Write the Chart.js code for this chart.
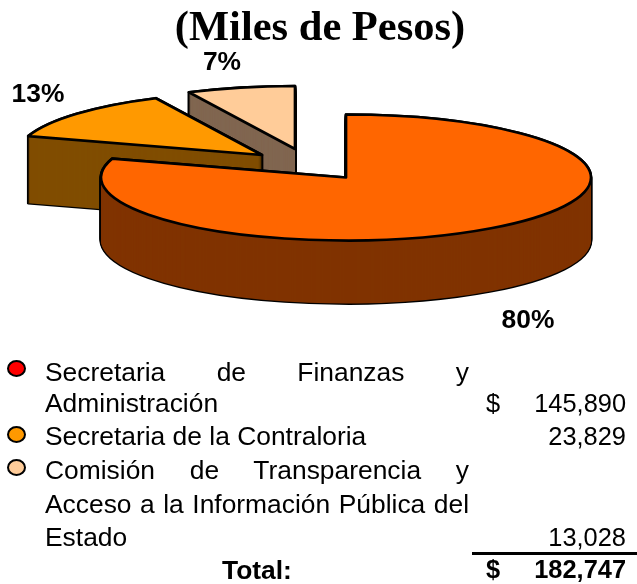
<!DOCTYPE html>
<html lang="es">
<head>
<meta charset="utf-8">
<script src="https://cdn.jsdelivr.net/npm/chart.js@4"></script>
<style>
html,body{margin:0;padding:0;background:#fff;width:637px;height:584px;overflow:hidden}
#c{position:absolute;left:0;top:0}
.t{position:absolute;font:26.4px/33px "Liberation Sans",Arial,sans-serif;color:#000;white-space:nowrap}
.j{width:424px;text-align:justify;text-align-last:justify;word-spacing:-0.5px}
.n{font-size:25.4px}
.r{text-align:right}
.b{font-weight:bold}
.m{position:absolute;width:15px;height:13px;border:2px solid #000;border-radius:50%}
#rule{position:absolute;left:472px;top:552px;width:165px;height:3px;background:#000}
</style>
</head>
<body>
<canvas id="c" width="637" height="584"></canvas>
<div class="m" style="left:7px;top:360px;background:#ff0000"></div>
<div class="m" style="left:7px;top:426px;background:#ff9900"></div>
<div class="m" style="left:7px;top:459px;background:#ffcc99"></div>
<div class="t j" style="left:45px;top:356px">Secretaria de Finanzas y</div>
<div class="t" style="left:45px;top:387px">Administración</div>
<div class="t" style="left:45px;top:420px">Secretaria de la Contraloria</div>
<div class="t j" style="left:45px;top:454px">Comisión de Transparencia y</div>
<div class="t j" style="left:45px;top:488px;white-space:normal">Acceso a la Información Pública del</div>
<div class="t" style="left:45px;top:521px">Estado</div>
<div class="t b" style="left:222px;top:554px">Total:</div>
<div class="t n" style="left:486px;top:387px">$</div>
<div class="t n b" style="left:486px;top:553px">$</div>
<div class="t n r" id="v0" style="right:11px;top:387px"></div>
<div class="t n r" id="v1" style="right:11px;top:420px"></div>
<div class="t n r" id="v2" style="right:11px;top:521px"></div>
<div class="t n r b" id="vt" style="right:11px;top:553px"></div>
<div id="rule"></div>
<script>
const categories = ['Secretaria de Finanzas y Administración','Secretaria de la Contraloria','Comisión de Transparencia y Acceso a la Información Pública del Estado'];
const values = [145890, 23829, 13028];
const totalValue = 182747;
const titleText = '(Miles de Pesos)';
const topColors = ['#FF6600','#FF9900','#FFCC99'];
const sideColors = ['#803300','#804D00','#806650'];

const fmt = n => n.toLocaleString('en-US');
values.forEach((v,i)=>document.getElementById('v'+i).textContent = fmt(v));
document.getElementById('vt').textContent = fmt(totalValue);

// 3-D view of the pie
const view = {cx:346, cy:177.5, ky:63/245, line:2.7};
const depths = [63,67,63];
const explode = [[0,0],[-84,-22.5],[-51,-28.5]];
const pctPos = [[528,328],[38,102],[222,70]];
const drawOrder = [2,1,0];

const pie3d = {
  id:'pie3d',
  beforeDatasetsDraw(chart){
    const ctx = chart.ctx, meta = chart.getDatasetMeta(0);
    const nativeStroke = ctx.stroke;
    ctx.stroke = function(){ ctx.save(); ctx.setTransform(1,0,0,1,0,0); nativeStroke.call(ctx); ctx.restore(); };
    const paint = (arc,i,y,fill,stroke) => {
      const saved = arc.options;
      arc.options = {backgroundColor:fill, borderColor:'#000', borderWidth:stroke, borderAlign:'center',
        borderJoinStyle:'round', borderRadius:0, spacing:0, offset:0, circular:true, borderDash:[], borderDashOffset:0};
      ctx.save();
      ctx.translate(view.cx+explode[i][0], view.cy+explode[i][1]+y);
      ctx.scale(1, view.ky);
      ctx.translate(-arc.x,-arc.y);
      ctx.lineWidth = stroke;
      arc.draw(ctx);
      ctx.restore();
      arc.options = saved;
    };
    drawOrder.forEach(i=>{
      const arc = meta.data[i];
      for(let d=depths[i];d>=0;d--) paint(arc,i,d,'#000',view.line);
      for(let d=depths[i];d>=0;d--) paint(arc,i,d,sideColors[i],0);
      paint(arc,i,0,topColors[i],view.line);
    });
    ctx.stroke = nativeStroke;
    const total = values.reduce((a,b)=>a+b,0);
    ctx.save();
    ctx.fillStyle='#000'; ctx.font='bold 26.4px "Liberation Sans",Arial,sans-serif';
    ctx.textAlign='center'; ctx.textBaseline='alphabetic';
    values.forEach((v,i)=>ctx.fillText(Math.round(v/total*100)+'%',pctPos[i][0],pctPos[i][1]));
    ctx.restore();
    return false;
  }
};

new Chart(document.getElementById('c'),{
  type:'pie',
  data:{labels:categories,datasets:[{data:values,backgroundColor:topColors,radius:245,borderWidth:0}]},
  plugins:[pie3d],
  options:{
    responsive:false,animation:false,devicePixelRatio:1,
    layout:{padding:{left:3}},
    plugins:{
      legend:{display:false},tooltip:{enabled:false},
      title:{display:true,text:titleText,color:'#000',align:'center',
        font:{family:'"Liberation Serif","Times New Roman",serif',size:42.5,weight:'bold'},
        padding:{top:4,bottom:0}}
    }
  }
});
</script>
</body>
</html>
